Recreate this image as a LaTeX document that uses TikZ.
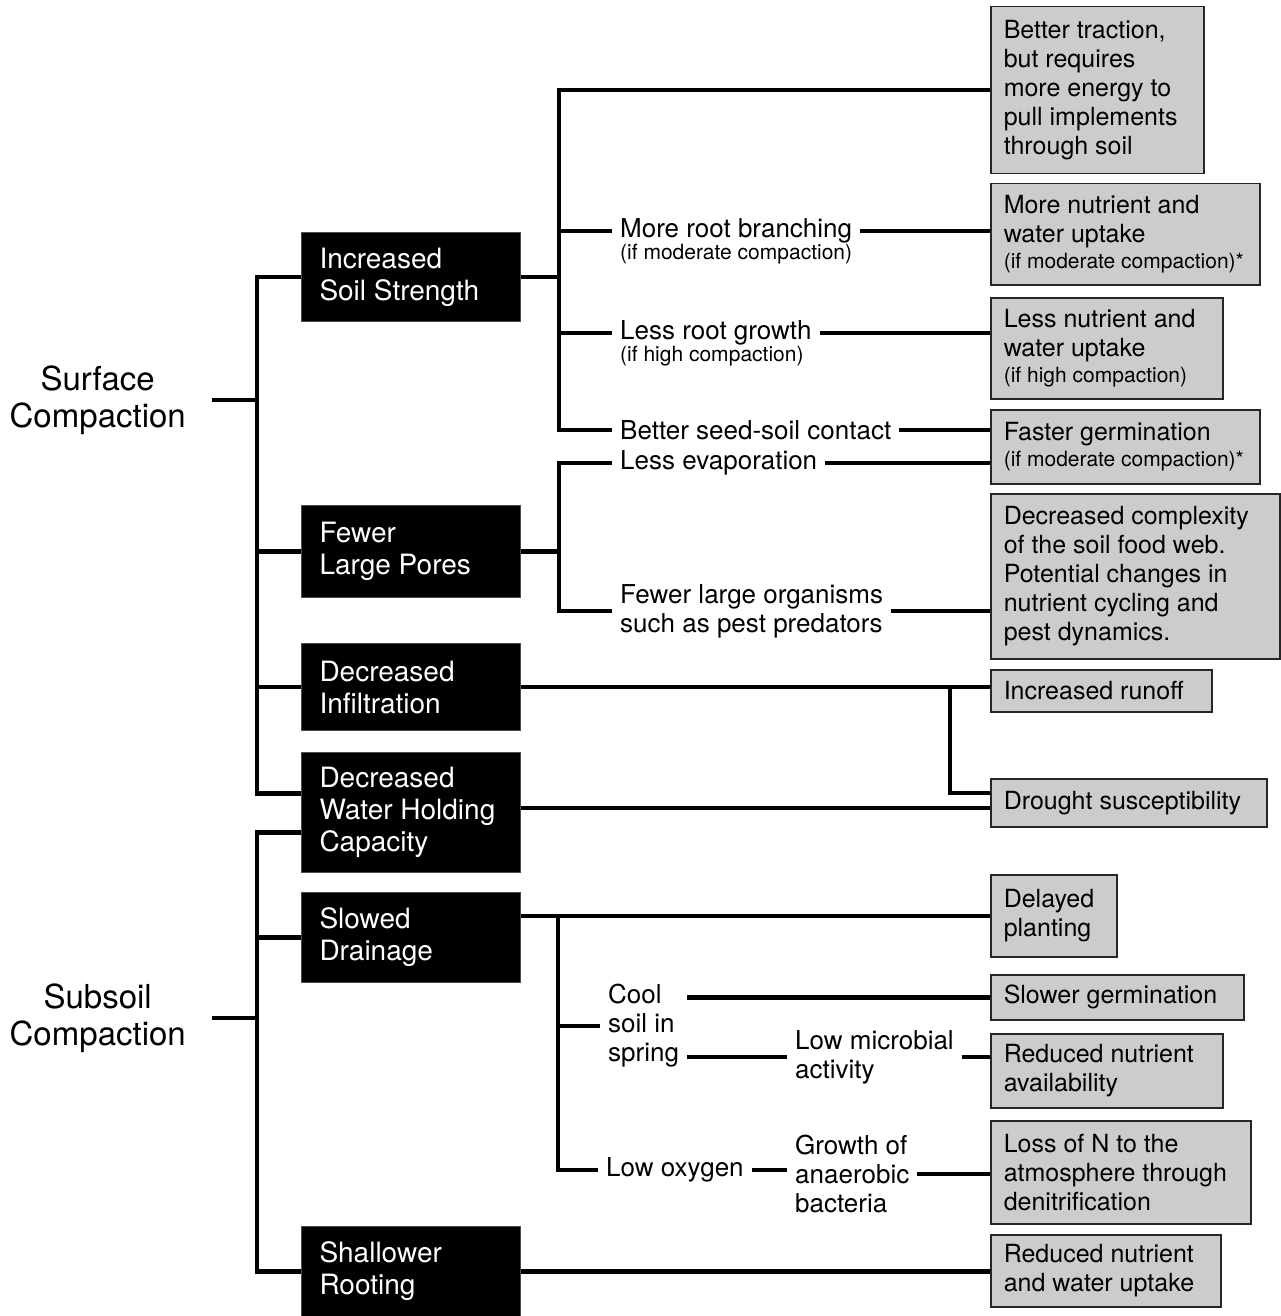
\documentclass[tikz,border=0pt]{standalone}
\usepackage{fontspec}
\setmainfont{TeX Gyre Heros}
\usetikzlibrary{positioning,calc}
\newcommand{\notefont}{\fontsize{21}{24}\selectfont}
\tikzset{
  cause/.style={fill=black, draw=black!70, line width=1pt, text=white, anchor=north west, align=flush left, text width=183pt, inner xsep=18pt, inner ysep=0pt, font=\fontsize{28}{32}\selectfont},
  outcome/.style={fill=black!20, draw=black!85, line width=1.5pt, anchor=north west, align=flush left, inner xsep=13pt, inner ysep=0pt, font=\fontsize{25}{29}\selectfont},
  mid/.style={anchor=west, align=left, inner xsep=8pt, inner ysep=1pt, font=\fontsize{26}{29}\selectfont},
  note/.style={anchor=west, inner xsep=8pt, inner ysep=0pt, font=\notefont},
  root/.style={anchor=east, align=center, inner xsep=26pt, font=\fontsize{33}{37}\selectfont},
  link/.style={line width=4.5pt}
}

\begin{document}
\begin{tikzpicture}[x=1pt,y=-1pt]
    \path[use as bounding box, fill=white] (0,0) rectangle (1280,1316);

    % starting points
    \node[root] (surf) at (212,400) {Surface\\Compaction};
    \node[root] (subs) at (212,1018) {Subsoil\\Compaction};

    % black boxes
    \node[cause, minimum height=89pt] (iss) at (301,232) {Increased\\Soil Strength};
    \node[cause, minimum height=92pt] (flp) at (301,505) {Fewer\\Large Pores};
    \node[cause, minimum height=87pt] (dinf) at (301,643) {Decreased\\Infiltration};
    \node[cause, minimum height=120pt] (dwhc) at (301,752) {Decreased\\Water Holding\\Capacity};
    \node[cause, minimum height=90pt] (sdr) at (301,892) {Slowed\\Drainage};
    \node[cause, minimum height=90pt] (srt) at (301,1226) {Shallower\\Rooting};

    % grey boxes
    \node[outcome, text width=187pt, minimum height=167pt] (trac) at (990,6) {Better traction,\\but requires\\more energy to\\pull implements\\through soil};
    \node[outcome, text width=243pt, minimum height=101pt] (moreup) at (990,183) {More nutrient and\\water uptake\\[-3pt]{\notefont (if moderate compaction)*}};
    \node[outcome, text width=206pt, minimum height=101pt] (lessup) at (990,297) {Less nutrient and\\water uptake\\[-3pt]{\notefont (if high compaction)}};
    \node[outcome, text width=243pt, minimum height=74pt] (germ) at (990,409) {Faster germination\\[-3pt]{\notefont (if moderate compaction)*}};
    \node[outcome, text width=263pt, minimum height=165pt] (web) at (990,493) {Decreased complexity\\of the soil food web.\\Potential changes in\\nutrient cycling and\\pest dynamics.};
    \node[outcome, text width=195pt, minimum height=42pt] (runoff) at (990,669) {Increased runoff};
    \node[outcome, text width=250pt, minimum height=48pt] (drought) at (990,778) {Drought susceptibility};
    \node[outcome, text width=100pt, minimum height=82pt] (delay) at (990,874) {Delayed\\planting};
    \node[outcome, text width=227pt, minimum height=45pt] (slowgerm) at (990,974) {Slower germination};
    \node[outcome, text width=206pt, minimum height=74pt] (avail) at (990,1033) {Reduced nutrient\\availability};
    \node[outcome, text width=234pt, minimum height=103pt] (denit) at (990,1120) {Loss of N to the\\atmosphere through\\denitrification};
    \node[outcome, text width=204pt, minimum height=72pt] (uptake) at (990,1234) {Reduced nutrient\\and water uptake};

    % in between
    \node[mid] (brn) at (612,231) {More root branching};
    \node[note] (brnnote) at (612,254) {(if moderate compaction)};
    \node[mid] (lrg) at (612,333) {Less root growth};
    \node[note] (lrgnote) at (612,356) {(if high compaction)};
    \node[mid] (seed) at (612,430) {Better seed-soil contact};
    \node[mid] (evap) at (612,463) {Less evaporation};
    \node[mid] (org) at (612,611) {Fewer large organisms\\such as pest predators};
    \node[mid] (cool) at (600,1026) {Cool\\soil in\\spring};
    \node[mid] (lowox) at (598,1170) {Low oxygen};
    \node[mid] (lowmic) at (787,1057) {Low microbial\\activity};
    \node[mid] (anaer) at (787,1174) {Growth of\\anaerobic\\bacteria};

    % junctions
    \coordinate (sj) at (257,400);
    \coordinate (ij) at ([xshift=38pt]iss.east);
    \coordinate (fj) at ([xshift=38pt]flp.east);
    \coordinate (dj) at (950,690);
    \coordinate (sdj) at (558,916);
    \coordinate (dw1) at ([yshift=19pt]dwhc.west);
    \coordinate (dw2) at ([yshift=-20pt]dwhc.west);
    \coordinate (dr1) at ([yshift=10pt]drought.west);
    \coordinate (dr2) at ([yshift=-5pt]drought.west);

    \draw[link] (surf.east) -- (surf.east -| sj);
    \draw[link] (iss.west) -| (dw1 -| sj) -- (dw1);
    \draw[link] (flp.west) -- (flp.west -| sj);
    \draw[link] (dinf.west) -- (dinf.west -| sj);
    \draw[link] (subs.east) -- (subs.east -| sj);
    \draw[link] (dw2) -| (srt.west -| sj) -- (srt.west);
    \draw[link] (sdr.west) -- (sdr.west -| sj);

    \draw[link] (iss.east) -- (ij);
    \draw[link] (trac.west) -| (seed.west -| ij) -- (seed.west);
    \draw[link] (brn.west -| ij) -- (brn.west);
    \draw[link] (lrg.west -| ij) -- (lrg.west);
    \draw[link] (brn.east) -- (brn.east -| moreup.west);
    \draw[link] (lrg.east) -- (lrg.east -| lessup.west);
    \draw[link] (seed.east) -- (seed.east -| germ.west);

    \draw[link] (flp.east) -- (fj);
    \draw[link] (evap.west) -| (org.west -| fj) -- (org.west);
    \draw[link] (evap.east) -- (evap.east -| germ.west);
    \draw[link] (org.east) -- (org.east -| web.west);

    \draw[link] (dinf.east) -- (dinf.east -| runoff.west);
    \draw[link] (dinf.east -| dj) |- (dr1);
    \draw[link] (dr2 -| dwhc.east) -- (dr2);

    \draw[link] (delay.west -| sdr.east) -- (delay.west);
    \draw[link] (delay.west -| sdj) -- (lowox.west -| sdj) -- (lowox.west);
    \draw[link] (cool.west -| sdj) -- (cool.west);
    \draw[link] (cool.east |- slowgerm.west) -- (slowgerm.west);
    \draw[link] (cool.east |- lowmic.west) -- (lowmic.west);
    \draw[link] (lowmic.east) -- (lowmic.east -| avail.west);
    \draw[link] (lowox.east) -- (anaer.west |- lowox.east);
    \draw[link] (anaer.east) -- (anaer.east -| denit.west);
    \draw[link] (srt.east) -- (srt.east -| uptake.west);
\end{tikzpicture}
\end{document}
